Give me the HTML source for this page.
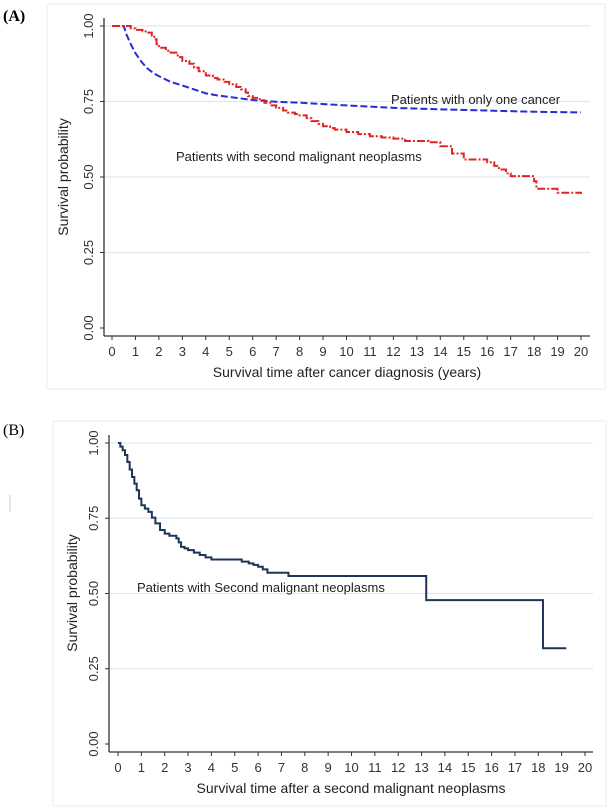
<!DOCTYPE html>
<html><head><meta charset="utf-8"><style>
html,body{margin:0;padding:0;background:#fff;}
svg{display:block;font-family:"Liberation Sans",sans-serif;}
</style></head><body>
<svg id="c" width="611" height="808" viewBox="0 0 611 808">
<rect x="47" y="4" width="558" height="385" fill="none" stroke="#e6edf1"/>
<rect x="53" y="421" width="553" height="385" fill="none" stroke="#e6edf1"/>
<text x="3" y="21" font-family="Liberation Serif,serif" font-weight="bold" font-size="16">(A)</text>
<text x="3" y="435" font-family="Liberation Serif,serif" font-size="16">(B)</text>
<line x1="10" y1="495" x2="10" y2="512" stroke="#ccc"/>
<g id="ga"></g><g id="gb"></g>
</svg>
<script>
const ticksX = [0,1,2,3,4,5,6,7,8,9,10,11,12,13,14,15,16,17,18,19,20];
const ticksY = [0,0.25,0.5,0.75,1];
const blueT = [0,0.5,0.6,0.8,1,1.25,1.5,1.75,2,2.5,3,3.5,4,4.5,5,6,7,8,10,12,14,16,18,20];
const blueV = [1,1,0.975,0.94,0.91,0.882,0.86,0.845,0.834,0.815,0.803,0.79,0.777,0.77,0.765,0.755,0.749,0.746,0.737,0.729,0.724,0.72,0.716,0.714];
const redT = [0,0.6,0.8,1,1.3,1.5,1.7,1.8,1.9,2,2.3,2.5,2.8,3,3.3,3.5,3.7,4,4.3,4.5,4.8,5,5.3,5.5,5.7,5.8,6,6.3,6.5,6.8,7,7.3,7.5,7.8,8,8.3,8.5,8.8,9,9.3,9.5,10,10.5,11,11.5,12,12.5,13.5,14,14.5,15,16,16.3,16.5,16.8,17,18,18.1,19,20];
const redV = [1,1,0.992,0.987,0.982,0.978,0.968,0.956,0.94,0.928,0.918,0.912,0.897,0.884,0.875,0.862,0.85,0.836,0.828,0.823,0.815,0.807,0.798,0.79,0.78,0.768,0.762,0.754,0.746,0.737,0.729,0.72,0.713,0.708,0.704,0.695,0.685,0.676,0.668,0.662,0.657,0.649,0.642,0.635,0.631,0.627,0.619,0.615,0.602,0.578,0.558,0.549,0.537,0.525,0.512,0.503,0.486,0.461,0.448,0.444];
const smnT = [0,0.1,0.2,0.3,0.4,0.5,0.6,0.7,0.8,0.9,1.0,1.15,1.3,1.45,1.6,1.8,2.0,2.2,2.5,2.6,2.7,2.85,3,3.25,3.5,3.75,4,5,5.3,5.6,5.8,6,6.2,6.4,7.3,13.2,18.2,19.2];
const smnV = [1,0.988,0.976,0.96,0.937,0.912,0.887,0.865,0.843,0.815,0.793,0.782,0.771,0.752,0.733,0.711,0.699,0.692,0.683,0.67,0.655,0.65,0.644,0.636,0.628,0.62,0.613,0.613,0.606,0.6,0.595,0.589,0.58,0.569,0.558,0.478,0.318,0.318];
const NS='http://www.w3.org/2000/svg';
function mk(p,tag,at){const e=document.createElementNS(NS,tag);for(const k in at)e.setAttribute(k,at[k]);p.appendChild(e);return e;}
function stepPath(T,V,sx,sy){let d='M'+sx(T[0])+','+sy(V[0]);for(let i=1;i<T.length;i++){d+=' H'+sx(T[i])+' V'+sy(V[i]);}return d;}
function linePath(T,V,sx,sy){return T.map((t,i)=>(i?'L':'M')+sx(t)+','+sy(V[i])).join(' ');}
function panel(g,cfg){
  const sx=t=>cfg.x0+cfg.kx*t, sy=v=>cfg.y0-cfg.ky*v;
  ticksY.forEach(v=>{
    if(v>0){const gl=mk(g,'line',{x1:cfg.ax,x2:cfg.gx,y1:sy(v),y2:sy(v),stroke:'#dde9ef','stroke-width':1.2});
    
    }
    const tk=mk(g,'line',{x1:cfg.ax-4,x2:cfg.ax,y1:sy(v),y2:sy(v),stroke:'#333'});
    
    
    const tl=mk(g,'text',{x:0,y:0,'font-size':13,fill:'#333','text-anchor':'middle',transform:'translate('+(cfg.ax-11)+','+sy(v)+') rotate(-90)'});
    tl.textContent=v.toFixed(2);
    
    
  });
  ticksX.forEach(t=>{
    const tk=mk(g,'line',{x1:sx(t),x2:sx(t),y1:cfg.axY,y2:cfg.axY+4,stroke:'#333'});
    
    
    const tl=mk(g,'text',{x:sx(t),y:cfg.axY+20,'font-size':13,fill:'#333','text-anchor':'middle'});
    tl.textContent=t;
    
    
  });
  const ya=mk(g,'line',{x1:cfg.ax,x2:cfg.ax,y1:cfg.yTop,y2:cfg.axY,stroke:'#333','stroke-width':1.3});
  
  
  const xa=mk(g,'line',{x1:cfg.ax,x2:cfg.gx,y1:cfg.axY,y2:cfg.axY,stroke:'#333','stroke-width':1.3});
  
  
  const yt=mk(g,'text',{x:0,y:0,'font-size':14,fill:'#222','text-anchor':'middle',transform:'translate('+cfg.ytx+','+cfg.yty+') rotate(-90)'});
  yt.textContent='Survival probability';
  
  
  const xt=mk(g,'text',{x:(cfg.ax+cfg.gx)/2,y:cfg.axY+41,'font-size':14,fill:'#222','text-anchor':'middle'});
  xt.textContent=cfg.xtitle;
  
  
  return {sx,sy};
}
const ga=document.getElementById('ga');
const A=panel(ga,{x0:112,kx:23.45,y0:328,ky:302,ax:104,gx:590,axY:336,yTop:18,ytx:68,yty:177,xtitle:'Survival time after cancer diagnosis (years)'});
const bl=mk(ga,'path',{d:linePath(blueT,blueV,A.sx,A.sy),fill:'none',stroke:'#2a2ad6','stroke-width':2,'stroke-dasharray':'7,3'});


const rd=mk(ga,'path',{d:stepPath(redT,redV,A.sx,A.sy),fill:'none',stroke:'#e02424','stroke-width':2,'stroke-dasharray':'8,2,2,2'});


const l1=mk(ga,'text',{x:391,y:104,'font-size':13,fill:'#222'});l1.textContent='Patients with only one cancer';


const l2=mk(ga,'text',{x:176,y:161,'font-size':13,fill:'#222'});l2.textContent='Patients with second malignant neoplasms';


const gb=document.getElementById('gb');
const B=panel(gb,{x0:118,kx:23.35,y0:744,ky:301,ax:109,gx:593,axY:752,yTop:435,ytx:77,yty:593,xtitle:'Survival time after a second malignant neoplasms'});
const nv=mk(gb,'path',{d:stepPath(smnT,smnV,B.sx,B.sy),fill:'none',stroke:'#1e3557','stroke-width':2});


const l3=mk(gb,'text',{x:137,y:592,'font-size':13,fill:'#222'});l3.textContent='Patients with Second malignant neoplasms';


</script>
</body></html>
